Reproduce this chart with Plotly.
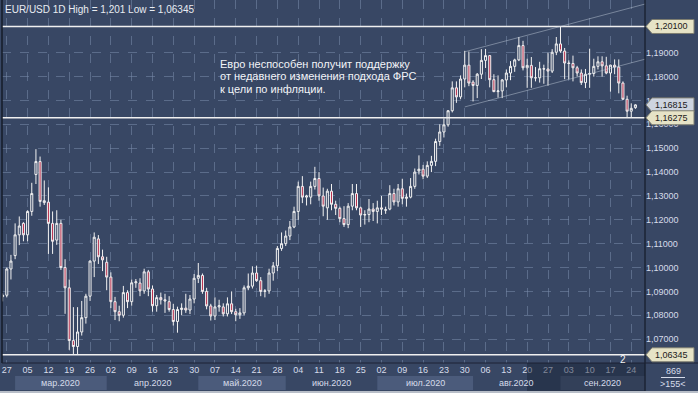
import pandas as pd
import plotly.graph_objects as go

# ---------------- data ----------------
dates = [d.strftime("%Y-%m-%d") for d in pd.bdate_range("2020-02-26", "2020-09-25")]

opens = [1.0878, 1.0884, 1.0994, 1.1050, 1.1137, 1.1185, 1.1137, 1.1235, 1.1390, 1.1444,
         1.1272, 1.1274, 1.1185, 1.1115, 1.1185, 1.1000, 1.0915, 1.0694, 1.0669, 1.0730,
         1.0790, 1.0880, 1.1027, 1.1120, 1.1045, 1.1022, 1.0960, 1.0857, 1.0815, 1.0800,
         1.0895, 1.0857, 1.0936, 1.0935, 1.0902, 1.0982, 1.0910, 1.0840, 1.0874, 1.0865,
         1.0857, 1.0824, 1.0774, 1.0824, 1.0830, 1.0822, 1.0868, 1.0955, 1.0967, 1.0900,
         1.0839, 1.0797, 1.0835, 1.0835, 1.0806, 1.0848, 1.0815, 1.0802, 1.0810, 1.0915,
         1.0922, 1.0977, 1.0945, 1.0900, 1.0902, 1.0977, 1.1007, 1.1080, 1.1100, 1.1132,
         1.1170, 1.1235, 1.1340, 1.1295, 1.1295, 1.1340, 1.1373, 1.1300, 1.1250, 1.1320,
         1.1265, 1.1248, 1.1205, 1.1180, 1.1257, 1.1310, 1.1250, 1.1220, 1.1222, 1.1245,
         1.1235, 1.1250, 1.1240, 1.1245, 1.1310, 1.1275, 1.1330, 1.1290, 1.1295, 1.1340,
         1.1405, 1.1412, 1.1383, 1.1428, 1.1445, 1.1528, 1.1568, 1.1598, 1.1657, 1.1753,
         1.1715, 1.1790, 1.1848, 1.1777, 1.1763, 1.1810, 1.1868, 1.1888, 1.1787, 1.1737,
         1.1740, 1.1786, 1.1815, 1.1843, 1.1870, 1.1930, 1.1837, 1.1847, 1.1795, 1.1795,
         1.1833, 1.1832, 1.1823, 1.1902, 1.1937, 1.1907, 1.1857, 1.1855, 1.1837, 1.1815,
         1.1775, 1.1810, 1.1813, 1.1843, 1.1862, 1.1845, 1.1815, 1.1848, 1.1840, 1.1773,
         1.1705, 1.1655, 1.1670]
highs = [1.0892, 1.1000, 1.1053, 1.1185, 1.1214, 1.1190, 1.1240, 1.1355, 1.1496, 1.1465,
         1.1365, 1.1336, 1.1235, 1.1240, 1.1200, 1.1035, 1.0950, 1.0834, 1.0834, 1.0860,
         1.0890, 1.1030, 1.1147, 1.1136, 1.1075, 1.1045, 1.0980, 1.0877, 1.0840, 1.0923,
         1.0905, 1.0950, 1.0952, 1.0955, 1.0995, 1.0990, 1.0925, 1.0885, 1.0895, 1.0890,
         1.0880, 1.0848, 1.0836, 1.0850, 1.0890, 1.0885, 1.0973, 1.1019, 1.0975, 1.0915,
         1.0848, 1.0875, 1.0865, 1.0850, 1.0875, 1.0900, 1.0827, 1.0830, 1.0925, 1.0975,
         1.1005, 1.1008, 1.0960, 1.0910, 1.0995, 1.1023, 1.1090, 1.1147, 1.1155, 1.1195,
         1.1255, 1.1360, 1.1383, 1.1305, 1.1360, 1.1422, 1.1400, 1.1335, 1.1330, 1.1350,
         1.1280, 1.1255, 1.1257, 1.1270, 1.1350, 1.1350, 1.1255, 1.1240, 1.1287, 1.1270,
         1.1280, 1.1300, 1.1255, 1.1345, 1.1330, 1.1350, 1.1372, 1.1310, 1.1375, 1.1415,
         1.1470, 1.1430, 1.1445, 1.1468, 1.1540, 1.1600, 1.1625, 1.1660, 1.1780, 1.1780,
         1.1805, 1.1908, 1.1905, 1.1785, 1.1815, 1.1915, 1.1916, 1.1890, 1.1810, 1.1805,
         1.1790, 1.1830, 1.1865, 1.1875, 1.1966, 1.1950, 1.1875, 1.1882, 1.1840, 1.1862,
         1.1850, 1.1900, 1.1915, 1.1966, 1.2010, 1.1920, 1.1868, 1.1888, 1.1845, 1.1830,
         1.1832, 1.1917, 1.1875, 1.1885, 1.1885, 1.1883, 1.1850, 1.1872, 1.1872, 1.1780,
         1.1720, 1.1688, 1.1684]
lows = [1.0858, 1.0875, 1.0950, 1.1035, 1.1094, 1.1110, 1.1110, 1.1217, 1.1350, 1.1255,
        1.1262, 1.1057, 1.1057, 1.1095, 1.0990, 1.0806, 1.0655, 1.06345, 1.0637, 1.0715,
        1.0765, 1.0860, 1.0960, 1.1015, 1.0985, 1.0905, 1.0830, 1.0780, 1.0775, 1.0790,
        1.0830, 1.0840, 1.0915, 1.0880, 1.0890, 1.0880, 1.0815, 1.0815, 1.0845, 1.0810,
        1.0815, 1.0757, 1.0727, 1.0800, 1.0810, 1.0805, 1.0850, 1.0935, 1.0890, 1.0825,
        1.0778, 1.0780, 1.0815, 1.0795, 1.0795, 1.0805, 1.0775, 1.0785, 1.0800, 1.0905,
        1.0912, 1.0940, 1.0880, 1.0875, 1.0890, 1.0945, 1.0985, 1.1070, 1.1090, 1.1115,
        1.1165, 1.1200, 1.1270, 1.1260, 1.1265, 1.1327, 1.1280, 1.1215, 1.1200, 1.1240,
        1.1220, 1.1190, 1.1170, 1.1165, 1.1240, 1.1240, 1.1170, 1.1180, 1.1190, 1.1195,
        1.1185, 1.1220, 1.1225, 1.1240, 1.1260, 1.1255, 1.1265, 1.1255, 1.1290, 1.1330,
        1.1390, 1.1370, 1.1375, 1.1400, 1.1425, 1.1510, 1.1545, 1.1590, 1.1650, 1.1690,
        1.1705, 1.1755, 1.1760, 1.1696, 1.1710, 1.1790, 1.1836, 1.1755, 1.1735, 1.1712,
        1.1710, 1.1755, 1.1785, 1.1820, 1.1865, 1.1826, 1.1753, 1.1753, 1.1780, 1.1775,
        1.1770, 1.1762, 1.1815, 1.1890, 1.1900, 1.1789, 1.1789, 1.1780, 1.1800, 1.1765,
        1.1752, 1.1753, 1.1800, 1.1830, 1.1800, 1.1810, 1.1737, 1.1810, 1.1730, 1.1703,
        1.1628, 1.16275, 1.1665]
closes = [1.0884, 1.0994, 1.1027, 1.1137, 1.1174, 1.1137, 1.1235, 1.1310, 1.1444, 1.1277,
          1.1280, 1.1185, 1.1110, 1.1185, 1.1000, 1.0915, 1.0694, 1.0669, 1.0730, 1.0790,
          1.0880, 1.1027, 1.1127, 1.1045, 1.1032, 1.0960, 1.0857, 1.0815, 1.0800, 1.0895,
          1.0857, 1.0936, 1.0940, 1.0902, 1.0982, 1.0910, 1.0840, 1.0874, 1.0865, 1.0860,
          1.0824, 1.0774, 1.0824, 1.0830, 1.0822, 1.0868, 1.0955, 1.0967, 1.0900, 1.0839,
          1.0797, 1.0835, 1.0840, 1.0806, 1.0848, 1.0815, 1.0802, 1.0810, 1.0915, 1.0922,
          1.0977, 1.0945, 1.0900, 1.0902, 1.0977, 1.1007, 1.1080, 1.1100, 1.1132, 1.1170,
          1.1235, 1.1340, 1.1295, 1.1300, 1.1340, 1.1373, 1.1300, 1.1257, 1.1320, 1.1265,
          1.1248, 1.1205, 1.1180, 1.1257, 1.1310, 1.1250, 1.1220, 1.1222, 1.1245, 1.1235,
          1.1250, 1.1245, 1.1242, 1.1310, 1.1275, 1.1330, 1.1290, 1.1295, 1.1340, 1.1400,
          1.1412, 1.1383, 1.1428, 1.1445, 1.1528, 1.1568, 1.1598, 1.1657, 1.1753, 1.1715,
          1.1790, 1.1848, 1.1773, 1.1763, 1.1810, 1.1868, 1.1888, 1.1787, 1.1737, 1.1740,
          1.1786, 1.1815, 1.1843, 1.1870, 1.1930, 1.1837, 1.1847, 1.1795, 1.1795, 1.1833,
          1.1832, 1.1823, 1.1902, 1.1937, 1.1907, 1.1857, 1.1855, 1.1837, 1.1815, 1.1775,
          1.1810, 1.1813, 1.1843, 1.1862, 1.1845, 1.1815, 1.1848, 1.1840, 1.1773, 1.1705,
          1.1655, 1.1667, 1.16815]

tick_dates = ["2020-02-27", "2020-03-05", "2020-03-12", "2020-03-19", "2020-03-26",
              "2020-04-02", "2020-04-09", "2020-04-16", "2020-04-23", "2020-04-30",
              "2020-05-07", "2020-05-14", "2020-05-21", "2020-05-28", "2020-06-04",
              "2020-06-11", "2020-06-18", "2020-06-25", "2020-07-02", "2020-07-09",
              "2020-07-16", "2020-07-23", "2020-07-30", "2020-08-06", "2020-08-13",
              "2020-08-20", "2020-08-27", "2020-09-03", "2020-09-10", "2020-09-17",
              "2020-09-24"]
tick_text = ["27", "05", "12", "19", "26", "02", "09", "16", "23", "30", "07", "14", "21",
             "28", "04", "11", "18", "25", "02", "09", "16", "23", "30", "06", "13", "20",
             "27", "03", "10", "17", "24"]

price_ticks = [1.07, 1.08, 1.09, 1.10, 1.11, 1.12, 1.13, 1.14, 1.15, 1.16, 1.17, 1.18, 1.19]

month_labels = ["мар.2020", "апр.2020", "май.2020", "июн.2020", "июл.2020", "авг.2020", "сен.2020"]
month_starts = ["2020-03-02", "2020-04-01", "2020-05-01", "2020-06-01", "2020-07-01",
                "2020-08-03", "2020-09-01"]

level_high = 1.20100
level_low = 1.06345
level_support = 1.16275
current_price = 1.16815

channel_start = "2020-07-30"
channel_upper = [1.1904, 1.2104]
channel_lower = [1.1673, 1.1873]

title_text = "EUR/USD 1D High = 1,201 Low = 1,06345"
note_lines = ["Евро неспособен получит поддержку",
              "от недавнего изменения подхода ФРС",
              "к цели по инфляции."]

# ---------------- style ----------------
BG = "#384764"
GRID = "rgba(120,138,170,0.55)"
TXT = "#d6dcea"
FONT = "Liberation Sans"
W, H = 698, 393
ML, MR, MT, MB = 2, 53, 0, 30
plot_w = W - ML - MR
plot_h = H - MT - MB

x_range = [-0.15, 154.3]
y_range = [1.0600, 1.2121]

def px_to_paper_x(px):
    return (px - ML) / plot_w

def py_to_paper_y(py):
    return (H - MB - py) / plot_h

fig = go.Figure()
fig.add_trace(go.Candlestick(
    x=dates, open=opens, high=highs, low=lows, close=closes,
    increasing=dict(line=dict(color="#f2f2f2", width=1), fillcolor=BG),
    decreasing=dict(line=dict(color="#f2f2f2", width=1), fillcolor="#b8304e"),
    whiskerwidth=0, showlegend=False, hoverinfo="skip",
))

idx = {d: i for i, d in enumerate(dates)}
shapes = []
annotations = []

# horizontal levels
for lv in [level_high, level_support, level_low]:
    shapes.append(dict(type="line", xref="paper", yref="y", x0=0, x1=1, y0=lv, y1=lv,
                       line=dict(color="#f0f0f0", width=1.6), layer="above"))

# channel lines
cx0 = idx[channel_start]
cx1 = x_range[1]
for ys in (channel_upper, channel_lower):
    shapes.append(dict(type="line", xref="x", yref="y", x0=cx0, x1=cx1, y0=ys[0], y1=ys[1],
                       line=dict(color="rgba(200,210,225,0.45)", width=1), layer="above"))

# right axis separator
shapes.append(dict(type="line", xref="paper", yref="paper", x0=1, x1=1, y0=py_to_paper_y(H), y1=1,
                   line=dict(color="#151b28", width=1.2), layer="above"))
# left border
shapes.append(dict(type="line", xref="paper", yref="paper", x0=0, x1=0, y0=0, y1=1,
                   line=dict(color="#151b28", width=1.5), layer="above"))
# bottom axis top edge
shapes.append(dict(type="line", xref="paper", yref="paper", x0=0, x1=px_to_paper_x(W), y0=0, y1=0,
                   line=dict(color="#1c2334", width=1), layer="above"))

# month boxes
box_y0 = py_to_paper_y(390)
box_y1 = py_to_paper_y(376)
bounds = [idx[m] for m in month_starts] + [x_range[1]]
for k, lab in enumerate(month_labels):
    a, b = bounds[k], bounds[k + 1]
    if k % 2 == 0:
        shapes.append(dict(type="rect", xref="x", yref="paper", x0=a, x1=b, y0=box_y0, y1=box_y1,
                           fillcolor="#4b5b7b", line=dict(width=0), layer="below"))
    annotations.append(dict(x=(a + b) / 2, y=py_to_paper_y(383), xref="x", yref="paper",
                            text=lab, showarrow=False, font=dict(family=FONT, size=9, color=TXT),
                            xanchor="center", yanchor="middle"))

# dark overlay over the latest part of the time scale
shapes.append(dict(type="rect", xref="paper", yref="paper", x0=px_to_paper_x(527), x1=1,
                   y0=py_to_paper_y(391), y1=0, fillcolor="rgba(22,30,48,0.45)",
                   line=dict(width=0), layer="above"))
# bottom light border
shapes.append(dict(type="rect", xref="paper", yref="paper", x0=px_to_paper_x(0), x1=px_to_paper_x(W),
                   y0=py_to_paper_y(H), y1=py_to_paper_y(391), fillcolor="#b8bec8",
                   line=dict(width=0), layer="above"))

# price labels on the right axis
def price_tag(val, fill, text):
    h = 7 / (plot_h / (y_range[1] - y_range[0]))
    xt, xb, xe = px_to_paper_x(646), px_to_paper_x(652), px_to_paper_x(694)
    path = (f"M {xt},{val} L {xb},{val + h} L {xe},{val + h} L {xe},{val - h} "
            f"L {xb},{val - h} Z")
    shapes.append(dict(type="path", xref="paper", yref="y", path=path, fillcolor=fill,
                       line=dict(color="#7d7d70", width=1), layer="above"))
    annotations.append(dict(x=px_to_paper_x(653), y=val, xref="paper", yref="y", text=text,
                            showarrow=False, xanchor="left", yanchor="middle",
                            font=dict(family=FONT, size=9, color="#1a1a1a")))

def fmt(v):
    return f"{v:.5f}".replace(".", ",")

price_tag(level_high, "#e6e3c6", fmt(level_high))
price_tag(current_price, "#cdd4df", fmt(current_price))
price_tag(level_support, "#e6e3c6", fmt(level_support))
price_tag(level_low, "#e6e3c6", fmt(level_low))

# title
annotations.append(dict(x=px_to_paper_x(3), y=py_to_paper_y(10), xref="paper", yref="paper",
                        text=title_text, showarrow=False, xanchor="left", yanchor="middle",
                        font=dict(family=FONT, size=10, color="#e8ecf2")))
# note text
for k, line in enumerate(note_lines):
    annotations.append(dict(x=px_to_paper_x(218), y=py_to_paper_y(64 + 12.5 * k), xref="paper",
                            yref="paper", text=line, showarrow=False, xanchor="left",
                            yanchor="middle", font=dict(family=FONT, size=11, color="#f2f4f8")))
# small marker text
annotations.append(dict(x=px_to_paper_x(623), y=py_to_paper_y(359), xref="paper", yref="paper",
                        text="2", showarrow=False, xanchor="center", yanchor="middle",
                        font=dict(family=FONT, size=10, color="#f2f2f2")))
# bottom-right corner info
annotations.append(dict(x=px_to_paper_x(673), y=py_to_paper_y(371), xref="paper", yref="paper",
                        text="869", showarrow=False, xanchor="center", yanchor="middle",
                        font=dict(family=FONT, size=9, color=TXT)))
annotations.append(dict(x=px_to_paper_x(673), y=py_to_paper_y(384), xref="paper", yref="paper",
                        text=">155<", showarrow=False, xanchor="center", yanchor="middle",
                        font=dict(family=FONT, size=9, color=TXT)))
shapes.append(dict(type="line", xref="paper", yref="paper", x0=px_to_paper_x(661),
                   x1=px_to_paper_x(685), y0=py_to_paper_y(377.5), y1=py_to_paper_y(377.5),
                   line=dict(color=TXT, width=1), layer="above"))

fig.update_layout(
    width=W, height=H,
    margin=dict(l=ML, r=MR, t=MT, b=MB, pad=0, autoexpand=False),
    paper_bgcolor=BG, plot_bgcolor=BG,
    separators=", ",
    showlegend=False,
    shapes=shapes, annotations=annotations,
    font=dict(family=FONT, size=9, color=TXT),
    xaxis=dict(type="category", range=x_range, rangeslider=dict(visible=False),
               tickmode="array", tickvals=tick_dates, ticktext=tick_text,
               showgrid=True, gridcolor=GRID, griddash="dash", gridwidth=1,
               ticks="", showline=False, zeroline=False, automargin=False,
               tickfont=dict(family=FONT, size=9, color=TXT)),
    yaxis=dict(side="right", range=y_range, tickmode="array", tickvals=price_ticks,
               tickformat=".5f",
               showgrid=True, gridcolor=GRID, griddash="dash", gridwidth=1,
               ticks="", showline=False, zeroline=False, automargin=False,
               tickfont=dict(family=FONT, size=9, color=TXT)),
)

fig.write_html("out.html", config={"displayModeBar": False},
               post_script="document.body.style.margin='0px';document.body.style.overflow='hidden';")
